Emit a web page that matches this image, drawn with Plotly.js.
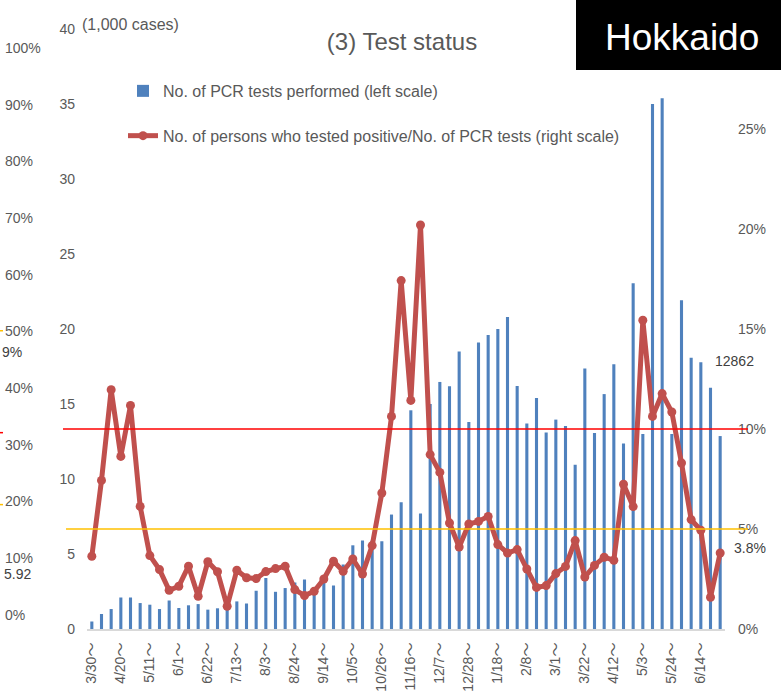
<!DOCTYPE html>
<html>
<head>
<meta charset="utf-8">
<script src="https://cdn.plot.ly/plotly-3.0.1.min.js"></script>
<style>html,body{margin:0;padding:0;background:#fff;}#chart{width:781px;height:691px;}</style>
</head>
<body>
<div id="chart"></div>
<script>
// Weekly periods (week starting)
var weeks = ["3/30～","4/6～","4/13～","4/20～","4/27～","5/4～","5/11～","5/18～","5/25～","6/1～",
  "6/8～","6/15～","6/22～","6/29～","7/6～","7/13～","7/20～","7/27～","8/3～","8/10～",
  "8/17～","8/24～","8/31～","9/7～","9/14～","9/21～","9/28～","10/5～","10/12～","10/19～",
  "10/26～","11/2～","11/9～","11/16～","11/23～","11/30～","12/7～","12/14～","12/21～","12/28～",
  "1/4～","1/11～","1/18～","1/25～","2/1～","2/8～","2/15～","2/22～","3/1～","3/8～",
  "3/15～","3/22～","3/29～","4/5～","4/12～","4/19～","4/26～","5/3～","5/10～","5/17～",
  "5/24～","5/31～","6/7～","6/14～","6/21～","6/28～"];

// No. of PCR tests performed (1,000 cases)
var pcrTests = [0.5,1.0,1.33,2.1,2.1,1.73,1.62,1.33,1.9,1.4,
  1.58,1.66,1.29,1.38,1.7,1.84,1.7,2.55,3.4,2.48,
  2.73,3.1,3.3,2.6,3.4,2.9,4.3,5.58,5.9,5.9,
  5.85,7.63,8.45,14.58,7.7,15.0,16.47,16.18,18.5,13.8,
  19.1,19.6,20.0,20.8,16.2,13.7,15.4,13.1,13.96,13.54,
  10.95,17.36,13.07,15.66,17.65,12.36,23.05,13.0,35.0,35.38,
  13.0,21.92,18.09,17.78,16.08,12.862];

// Positive rate (%)
var positiveRate = [3.64,7.43,11.96,8.63,11.18,6.13,3.67,2.97,1.94,2.14,
  3.14,1.64,3.36,2.86,1.14,2.94,2.56,2.52,2.87,3.02,
  3.14,1.97,1.67,1.89,2.5,3.39,2.89,3.5,2.75,4.17,
  6.8,10.63,17.42,11.43,20.2,8.72,7.83,5.3,4.1,5.25,
  5.38,5.63,4.22,3.8,3.97,3.0,2.08,2.17,2.77,3.13,
  4.42,2.6,3.18,3.59,3.44,7.24,6.12,15.44,10.63,11.77,
  10.85,8.3,5.47,4.94,1.59,3.8];

var tickLabels = ["3/30～","4/20～","5/11～","6/1～","6/22～","7/13～","8/3～","8/24～","9/14～","10/5～",
  "10/26～","11/16～","12/7～","12/28～","1/18～","2/8～","3/1～","3/22～","4/12～","5/3～","5/24～","6/14～"];

var leftTicks = [0,5,10,15,20,25,30,35,40];
var rightTicks = [0,5,10,15,20,25];
var rightTickText = ["0%","5%","10%","15%","20%","25%"];
var farLeftTicks = ["0%","10%","20%","30%","40%","50%","60%","70%","80%","90%","100%"];

var FONT = "Liberation Sans, Arial, sans-serif";
var TICKFONT = "Liberation Sans, Noto Sans CJK JP, sans-serif";
var GREY = "#595959";

// pixel helpers for layout positions (plot area: x 87..725, y 29..629.5)
function px(x){ return (x-87)/638; }
function py(y){ return (629.5-y)/600.5; }

var traces = [
  {type:"bar", x:weeks, y:pcrTests, name:"No. of PCR tests performed (left scale)",
   marker:{color:"#4F81BD"}, yaxis:"y", legendgroup:"a", hoverinfo:"x+y"},
  {type:"scatter", mode:"lines+markers", x:weeks, y:positiveRate, yaxis:"y2",
   name:"No. of persons who tested positive/No. of PCR tests (right scale)",
   line:{color:"#C0504D", width:5}, marker:{color:"#C0504D", size:9}, legendgroup:"b"}
];

var annotations = [
  {text:"(1,000 cases)", xref:"paper", yref:"paper", x:px(80), y:py(24), xanchor:"left", yanchor:"middle",
   showarrow:false, font:{family:FONT, size:16, color:GREY}},
  {text:"Hokkaido", xref:"paper", yref:"paper", x:px(682), y:py(38), xanchor:"center", yanchor:"middle",
   showarrow:false, font:{family:FONT, size:37, color:"#ffffff"}},
  {text:"12862", xref:"paper", yref:"paper", x:px(713), y:py(361), xanchor:"left", yanchor:"middle",
   showarrow:false, font:{family:FONT, size:14, color:"#404040"}},
  {text:"3.8%", xref:"paper", yref:"paper", x:px(732), y:py(548), xanchor:"left", yanchor:"middle",
   showarrow:false, font:{family:FONT, size:14, color:"#404040"}},
  {text:"5.92", xref:"paper", yref:"paper", x:px(2), y:py(574), xanchor:"left", yanchor:"middle",
   showarrow:false, font:{family:FONT, size:14, color:"#404040"}},
  {text:"9%", xref:"paper", yref:"paper", x:px(0), y:py(352), xanchor:"left", yanchor:"middle",
   showarrow:false, font:{family:FONT, size:14, color:"#404040"}}
];
farLeftTicks.forEach(function(t, i){
  annotations.push({text:t, xref:"paper", yref:"paper", x:px(3), y:py(615 - 56.7*i),
    xanchor:"left", yanchor:"middle", showarrow:false, font:{family:FONT, size:14, color:GREY}});
});

var shapes = [
  {type:"rect", xref:"paper", yref:"paper", x0:px(576), x1:px(790), y0:py(70), y1:py(-5),
   fillcolor:"#000000", line:{width:0}, layer:"above"},
  {type:"line", xref:"paper", yref:"y2", x0:px(63), x1:px(748), y0:10, y1:10,
   line:{color:"#FF0000", width:1.5}, layer:"above"},
  {type:"line", xref:"paper", yref:"y2", x0:px(66), x1:px(748), y0:5, y1:5,
   line:{color:"#FFC000", width:1.5}, layer:"above"},
  {type:"line", xref:"paper", yref:"paper", x0:px(0), x1:px(3), y0:py(331), y1:py(331),
   line:{color:"#FFC000", width:1.5}},
  {type:"line", xref:"paper", yref:"paper", x0:px(0), x1:px(3), y0:py(433), y1:py(433),
   line:{color:"#FF0000", width:1.5}},
  {type:"line", xref:"paper", yref:"paper", x0:px(0), x1:px(3), y0:py(505), y1:py(505),
   line:{color:"#FFC000", width:1.5}}
];

var layout = {
  width:781, height:691,
  margin:{l:87, r:56, t:29, b:61.5, pad:0},
  paper_bgcolor:"#ffffff", plot_bgcolor:"#ffffff",
  font:{family:FONT, color:GREY, size:14},
  title:{text:"(3) Test status", xref:"paper", x:px(402), xanchor:"center",
         yref:"container", y:1-42/691, yanchor:"middle",
         font:{family:FONT, size:24, color:GREY}},
  bargap:0.68,
  showlegend:true,
  legend:{x:px(123), y:py(74), xanchor:"left", yanchor:"top", bgcolor:"rgba(0,0,0,0)",
          traceorder:"grouped", tracegroupgap:21, font:{family:FONT, size:16, color:GREY}},
  xaxis:{type:"category", range:[-0.5, weeks.length-0.5], tickmode:"array", tickvals:tickLabels, ticktext:tickLabels,
         tickangle:-90, ticks:"", showgrid:false, zeroline:false, showline:true,
         linecolor:"#D9D9D9", linewidth:2, ticklabelstandoff:6,
         tickfont:{family:TICKFONT, size:14, color:GREY}, automargin:false},
  yaxis:{range:[0,40], tickmode:"array", tickvals:leftTicks, showgrid:false, zeroline:false,
         showline:false, ticks:"", ticklabelstandoff:11,
         tickfont:{family:FONT, size:14, color:GREY}, automargin:false},
  yaxis2:{range:[0,30], overlaying:"y", side:"right", tickmode:"array", tickvals:rightTicks,
          ticktext:rightTickText, showgrid:false, zeroline:false, showline:false, ticks:"",
          ticklabelstandoff:12, tickfont:{family:FONT, size:14, color:GREY}, automargin:false},
  annotations:annotations,
  shapes:shapes
};

Plotly.newPlot("chart", traces, layout, {displayModeBar:false, staticPlot:true});
</script>
</body>
</html>
